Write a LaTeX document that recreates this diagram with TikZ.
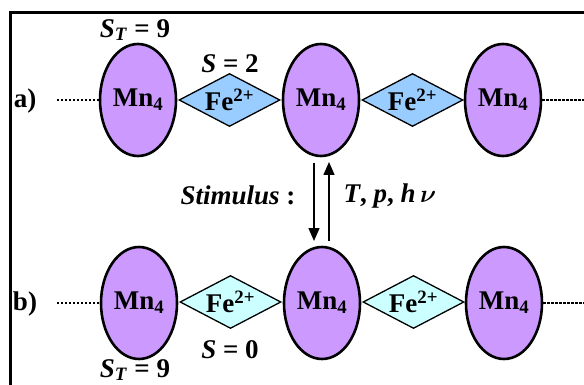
\documentclass[tikz,border=0pt]{standalone}
\usepackage{fontspec}
\setmainfont{Liberation Serif}
\usetikzlibrary{shapes.geometric,arrows.meta}
\definecolor{mnfill}{HTML}{CC99FF}
\definecolor{fehs}{HTML}{99CCFF}
\definecolor{fels}{HTML}{CCFFFF}
\tikzset{
  mn/.style={ellipse,draw=black,line width=2.6pt,fill=mnfill,minimum width=76pt,minimum height=112pt,inner sep=0pt,font=\fontsize{27}{29}\selectfont\bfseries},
  fe/.style={diamond,draw=black,line width=1.3pt,aspect=2,minimum width=101pt,minimum height=53pt,inner sep=0pt,font=\fontsize{27}{29}\selectfont\bfseries},
  lbl/.style={font=\fontsize{27}{29}\selectfont\bfseries,inner sep=0pt},
  dots/.style={line width=2.2pt,dash pattern=on 2.2pt off 1.8pt},
  arr/.style={line width=1.5pt,-{Triangle[length=13pt,width=11pt]}}
}
\newcommand{\mnt}{Mn\textsubscript{4}}
\newcommand{\fet}{Fe\textsuperscript{2+}}
\begin{document}
\begin{tikzpicture}[x=1pt,y=-1pt]
\useasboundingbox (0,0) rectangle (584,385);
\fill[white] (0,0) rectangle (584,385);
% frame
\draw[line width=2.6pt] (10.5,400) -- (10.5,12.5) -- (600,12.5);
% row a
\node[lbl] (la) at (25,101) {a)};
\node[mn] (a1) at (138,100) {\mnt};
\node[fe,fill=fehs] (af1) at (229.5,100) {\fet};
\node[mn] (a2) at (321,100) {\mnt};
\node[fe,fill=fehs] (af2) at (412.5,100) {\fet};
\node[mn] (a3) at (503,100) {\mnt};
\coordinate (al) at (57,100);
\coordinate (ar) at (590,100);
\draw[dots] (al) -- (a1.west);
\draw[dots] (a3.east) -- (ar);
\node[lbl] (sta) at (135,30) {\textit{S}\textsubscript{\textit{T}} = 9};
\node[lbl] (sa) at (230,64) {\textit{S} = 2};
% row b
\node[lbl] (lb) at (25,304) {b)};
\node[mn] (b1) at (139,303) {\mnt};
\node[fe,fill=fels] (bf1) at (230.5,302) {\fet};
\node[mn] (b2) at (322,303) {\mnt};
\node[fe,fill=fels] (bf2) at (413.5,302) {\fet};
\node[mn] (b3) at (504,303) {\mnt};
\coordinate (bl) at (57,303);
\coordinate (br) at (590,303);
\draw[dots] (bl) -- (b1.west);
\draw[dots] (b3.east) -- (br);
\node[lbl] (sb) at (230,350) {\textit{S} = 0};
\node[lbl] (stb) at (135,370) {\textit{S}\textsubscript{\textit{T}} = 9};
% stimulus arrows
\coordinate (d1) at (314,163);
\coordinate (d2) at (314,241);
\coordinate (u1) at (329,241);
\coordinate (u2) at (329,162);
\draw[arr] (d1) -- (d2);
\draw[arr] (u1) -- (u2);
\node[lbl] (stim) at (238,195) {\textit{Stimulus} :};
\node[lbl] (tph) at (390,196) {\textit{T}, \textit{p}, \textit{h}\,{\boldmath$\nu$}};
\end{tikzpicture}
\end{document}
